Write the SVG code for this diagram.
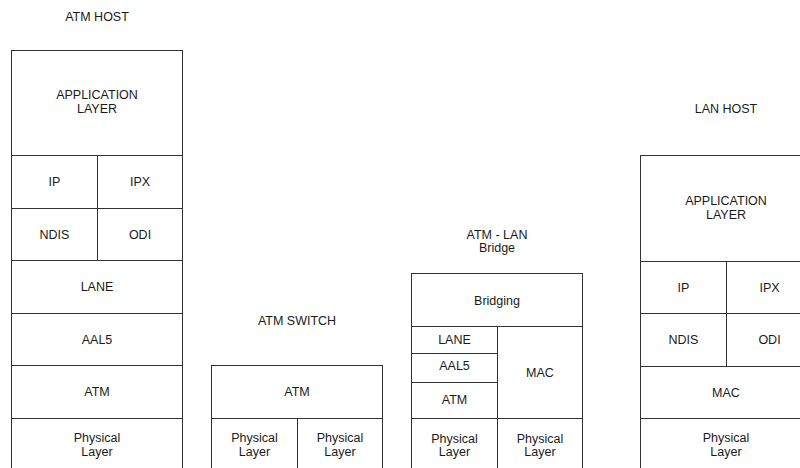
<svg xmlns="http://www.w3.org/2000/svg" width="800" height="468" viewBox="0 0 800 468">
<style>
.b{fill:#fff;stroke:#333;stroke-width:1}
.l{stroke:#333;stroke-width:1;fill:none}
text{font-family:"Liberation Sans",Arial,sans-serif;font-size:12.5px;fill:#1a1a1a;text-anchor:middle}
</style>
<rect width="800" height="468" fill="#fff"/>
<g id="atm-host">
<text x="97" y="21">ATM HOST</text>
<rect class="b" x="11.5" y="50.5" width="171" height="430"/>
<path class="l" d="M11.5 155.5H182.5M11.5 208.5H182.5M11.5 260.5H182.5M11.5 313.5H182.5M11.5 365.5H182.5M11.5 418.5H182.5M97.5 155.5V260.5"/>
<text x="97" y="99">APPLICATION</text>
<text x="97" y="113">LAYER</text>
<text x="54.5" y="185.5">IP</text>
<text x="140" y="185.5">IPX</text>
<text x="54.5" y="238.5">NDIS</text>
<text x="140" y="238.5">ODI</text>
<text x="97" y="291">LANE</text>
<text x="97" y="343.5">AAL5</text>
<text x="97" y="396">ATM</text>
<text x="97" y="441.5">Physical</text>
<text x="97" y="456">Layer</text>
</g>
<g id="atm-switch">
<text x="297" y="324.5">ATM SWITCH</text>
<rect class="b" x="211.5" y="365.5" width="171" height="115"/>
<path class="l" d="M211.5 418.5H382.5M297.5 418.5V470"/>
<text x="297" y="396">ATM</text>
<text x="254.5" y="441.5">Physical</text>
<text x="254.5" y="456">Layer</text>
<text x="340" y="441.5">Physical</text>
<text x="340" y="456">Layer</text>
</g>
<g id="atm-lan-bridge">
<text x="497" y="239">ATM - LAN</text>
<text x="497" y="252">Bridge</text>
<rect class="b" x="411.5" y="273.5" width="171" height="207"/>
<path class="l" d="M411.5 326.5H582.5M411.5 353.5H497.5M411.5 382.5H497.5M411.5 418.5H582.5M497.5 326.5V470"/>
<text x="497" y="304.5">Bridging</text>
<text x="454.5" y="343.5">LANE</text>
<text x="454.5" y="370">AAL5</text>
<text x="454.5" y="403.5">ATM</text>
<text x="540" y="377">MAC</text>
<text x="454.5" y="442.5">Physical</text>
<text x="454.5" y="456">Layer</text>
<text x="540" y="442.5">Physical</text>
<text x="540" y="456">Layer</text>
</g>
<g id="lan-host">
<text x="726" y="113">LAN HOST</text>
<rect class="b" x="640.5" y="155.5" width="172" height="325"/>
<path class="l" d="M640.5 261.5H812.5M640.5 313.5H812.5M640.5 366.5H812.5M640.5 418.5H812.5M726.5 261.5V366.5"/>
<text x="726" y="205">APPLICATION</text>
<text x="726" y="219">LAYER</text>
<text x="683.5" y="291.5">IP</text>
<text x="769.5" y="291.5">IPX</text>
<text x="683.5" y="344">NDIS</text>
<text x="769.5" y="344">ODI</text>
<text x="726" y="396.5">MAC</text>
<text x="726" y="441.5">Physical</text>
<text x="726" y="456">Layer</text>
</g>
</svg>
